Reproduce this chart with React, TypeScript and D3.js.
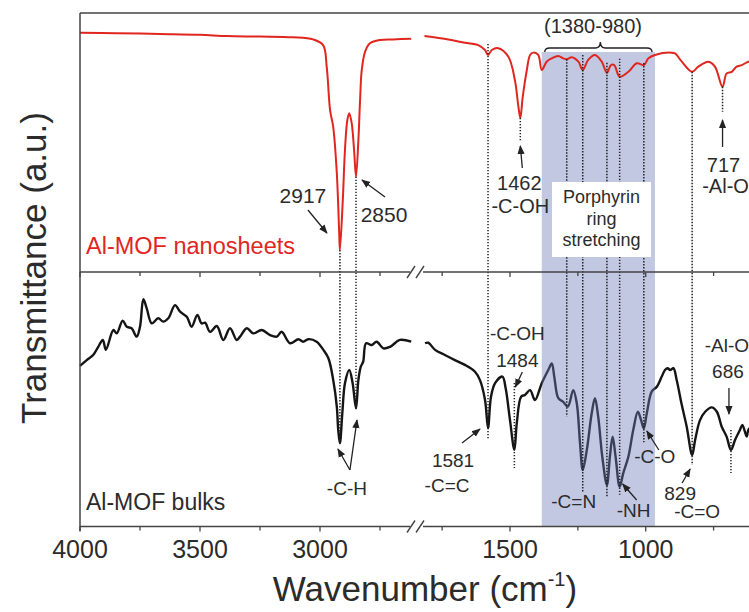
import React from 'react';
import * as d3 from 'd3';

// ---- data: [wavenumber (cm-1), transmittance (a.u.)] ----
const nanoLeft: [number, number][] = [
  [4000, 92.4], [3850, 92.2], [3667, 91.9], [3500, 91.6], [3388, 91.1], [3250, 90.9], [3113, 90.6],
  [3029, 89.8], [2987, 87.6], [2972, 79.2], [2958, 62.5], [2945, 56.0], [2930, 38.2], [2920, 15.1],
  [2917, 8.5], [2905, 27.8], [2896, 47.1], [2886, 58.7], [2878, 61.3], [2868, 57.5], [2858, 47.1],
  [2850, 36.8], [2840, 51.0], [2833, 66.4], [2826, 78.0], [2812, 85.1], [2792, 88.3], [2750, 89.6],
  [2696, 89.8], [2620, 90.1],
];
const nanoRight: [number, number][] = [
  [1815, 91.1], [1727, 89.8], [1666, 88.5], [1617, 87.6], [1592, 85.7], [1581, 83.8], [1567, 85.7],
  [1543, 86.4], [1506, 83.1], [1482, 74.1], [1469, 63.8], [1462, 59.5], [1453, 67.7], [1438, 78.0],
  [1426, 83.8], [1414, 84.7], [1396, 83.8], [1383, 78.0], [1365, 81.2], [1346, 82.5], [1322, 83.4],
  [1304, 82.5], [1291, 82.1], [1273, 82.9], [1248, 81.2], [1232, 78.0], [1212, 81.9], [1187, 83.8],
  [1162, 81.2], [1143, 76.9], [1128, 79.9], [1116, 79.9], [1096, 75.4], [1064, 77.3], [1033, 80.6],
  [1007, 79.9], [990, 82.5], [966, 83.8], [904, 84.7], [892, 84.4], [867, 81.2], [829, 77.3],
  [806, 79.3], [769, 81.2], [745, 79.3], [717, 71.5], [702, 76.7], [683, 77.3], [665, 79.3],
  [646, 79.9], [622, 81.2], [600, 81.6],
];
const bulkLeft: [number, number][] = [
  [4000, 63.1], [3972, 65.4], [3945, 67.4], [3924, 70.6], [3905, 73.3], [3892, 69.4], [3861, 77.2],
  [3847, 75.9], [3822, 80.9], [3805, 78.5], [3785, 77.9], [3764, 74.6], [3750, 78.5], [3736, 89.3],
  [3722, 85.7], [3701, 79.8], [3674, 81.8], [3653, 80.5], [3632, 81.8], [3604, 87.0], [3583, 84.4],
  [3555, 82.4], [3535, 78.5], [3511, 83.1], [3493, 79.8], [3479, 80.1], [3458, 76.5], [3430, 78.8],
  [3403, 73.3], [3375, 77.9], [3347, 73.3], [3333, 74.6], [3305, 77.9], [3278, 75.9], [3243, 77.2],
  [3208, 75.2], [3180, 74.6], [3160, 76.5], [3125, 72.0], [3090, 73.6], [3070, 72.6], [3049, 73.6],
  [3014, 72.6], [2986, 69.4], [2965, 66.1], [2945, 57.6], [2930, 47.1], [2924, 37.9], [2917, 32.7],
  [2907, 44.5], [2896, 56.3], [2878, 61.5], [2864, 56.3], [2850, 46.4], [2840, 57.6], [2830, 62.8],
  [2820, 64.8], [2808, 72.0], [2785, 71.3], [2764, 72.6], [2736, 70.0], [2708, 70.6], [2667, 73.3],
  [2620, 72.6],
];
const bulkRight: [number, number][] = [
  [1813, 72.0], [1801, 72.2], [1776, 69.4], [1740, 67.4], [1703, 65.4], [1666, 63.5], [1629, 60.8],
  [1611, 57.6], [1592, 49.7], [1581, 38.7], [1570, 51.0], [1555, 56.3], [1528, 58.9], [1516, 54.3],
  [1500, 41.8], [1484, 30.1], [1475, 40.6], [1459, 51.0], [1445, 51.7], [1426, 53.6], [1408, 49.7],
  [1383, 56.3], [1359, 61.5], [1346, 64.1], [1337, 58.9], [1322, 50.4], [1304, 49.0], [1287, 47.1],
  [1267, 53.6], [1254, 48.4], [1242, 32.7], [1232, 22.2], [1217, 30.1], [1199, 44.5], [1187, 50.4],
  [1175, 43.1], [1160, 27.4], [1143, 16.3], [1132, 27.4], [1122, 35.3], [1111, 27.4], [1096, 15.6],
  [1083, 20.9], [1064, 27.4], [1046, 37.9], [1029, 45.1], [1017, 41.8], [1007, 38.6], [996, 44.5],
  [978, 53.0], [959, 54.9], [941, 58.9], [929, 61.5], [919, 62.2], [910, 61.5], [898, 62.2],
  [886, 57.6], [867, 47.7], [849, 39.2], [829, 28.1], [818, 34.0], [800, 41.8], [781, 45.1],
  [757, 46.8], [738, 45.1], [720, 39.2], [702, 35.3], [686, 30.1], [671, 34.0], [653, 37.9],
  [644, 39.9], [628, 35.3], [622, 37.9], [600, 40.5],
];

const leftTicks = [4000, 3750, 3500, 3250, 3000, 2750];
const rightTicks = [1750, 1500, 1250, 1000, 750];
const majorLabels = [4000, 3500, 3000, 1500, 1000];
const shadedRange = [1383, 966];

// dotted guide lines: wavenumber, which curve(s) they join, offsets in px
const guides = [
  { wn: 2917, from: 'top', fo: 0, to: 'bot', tOff: 0 },
  { wn: 2850, from: 'top', fo: 0, to: 'bot', tOff: 2 },
  { wn: 1581, from: 'top', fo: -11, to: 'bot', tOff: 12 },
  { wn: 1462, from: 'top', fo: 0, to: 'top', tOff: 24 },
  { wn: 1484, from: 'bot', fo: -67, to: 'bot', tOff: 18 },
  { wn: 1291, from: 'top', fo: 0, to: 'bot', tOff: 11 },
  { wn: 1232, from: 'top', fo: -15, to: 'bot', tOff: 23 },
  { wn: 1143, from: 'top', fo: -10, to: 'bot', tOff: 12 },
  { wn: 1096, from: 'top', fo: -18, to: 'bot', tOff: 8 },
  { wn: 1007, from: 'top', fo: -2, to: 'bot', tOff: 14 },
  { wn: 829, from: 'top', fo: 0, to: 'bot', tOff: 10 },
  { wn: 717, from: 'top', fo: 0, to: 'top', tOff: 25 },
  { wn: 686, from: 'bot', fo: -20, to: 'bot', tOff: 23 },
];

const W = 749;
const H = 612;
const FONT = "'Liberation Sans', Arial, Helvetica, sans-serif";
const TXT = '#2b2b2b';
const RED = '#e0261f';

const xL = d3.scaleLinear().domain([4000, 2620]).range([80, 411.2]);
const xR = d3.scaleLinear().domain([1815, 600]).range([424.5, 754.3]);
const yTop = d3.scaleLinear().domain([0, 100]).range([272, 13]);
const yBot = d3.scaleLinear().domain([0, 100]).range([526.5, 272]);

const xOf = (wn: number) => (wn > 2000 ? xL(wn) : xR(wn));

function interp(series: [number, number][], wn: number) {
  for (let i = 0; i < series.length - 1; i++) {
    const [a, va] = series[i];
    const [b, vb] = series[i + 1];
    if (wn <= a && wn >= b) return va + ((wn - a) / (b - a)) * (vb - va);
  }
  return series[series.length - 1][1];
}
const topAt = (wn: number) => yTop(interp(wn > 2000 ? nanoLeft : nanoRight, wn));
const botAt = (wn: number) => yBot(interp(wn > 2000 ? bulkLeft : bulkRight, wn));

function pathFor(series: [number, number][], x: d3.ScaleLinear<number, number>, y: d3.ScaleLinear<number, number>) {
  return (
    d3
      .line<[number, number]>()
      .x((d) => x(d[0]))
      .y((d) => y(d[1]))
      .curve(d3.curveCatmullRom.alpha(0.5))(series) || ''
  );
}

const Arrow = ({ x1, y1, x2, y2 }: { x1: number; y1: number; x2: number; y2: number }) => (
  <line x1={x1} y1={y1} x2={x2} y2={y2} stroke="#222" strokeWidth={1.3} markerEnd="url(#ah)" />
);

const Label = ({ x, y, t, size = 20, anchor = 'middle', fill = TXT }: any) => (
  <text x={x} y={y} fontSize={size} textAnchor={anchor} fill={fill} fontFamily={FONT}>
    {t}
  </text>
);

export default function App() {
  const breakX1 = 410;
  const breakX2 = 421;
  const slash = (cx: number, cy: number, k: string) => (
    <g key={k}>
      <line x1={cx - 4} y1={cy + 6} x2={cx + 4} y2={cy - 6} stroke="#444" strokeWidth={1.4} />
    </g>
  );
  const axisRow = (y: number, key: string) => (
    <g key={key}>
      <line x1={80} y1={y} x2={breakX1} y2={y} stroke="#444" strokeWidth={1.5} />
      <line x1={breakX2 + 2} y1={y} x2={W} y2={y} stroke="#444" strokeWidth={1.5} />
      {slash(breakX1 + 1, y, key + 's1')}
      {slash(breakX2 - 1, y, key + 's2')}
      {leftTicks.map((t) => (
        <line key={'l' + t} x1={xL(t)} x2={xL(t)} y1={y} y2={y + (t % 500 === 0 ? 5 : 4)} stroke="#444" strokeWidth={1.3} />
      ))}
      {rightTicks.map((t) => (
        <line key={'r' + t} x1={xR(t)} x2={xR(t)} y1={y} y2={y + (t % 500 === 0 ? 5 : 4)} stroke="#444" strokeWidth={1.3} />
      ))}
    </g>
  );

  const shadeX1 = xR(shadedRange[0]);
  const shadeX2 = xR(shadedRange[1]);
  const braceMid = (shadeX1 + shadeX2) / 2 + 2;

  return (
    <div style={{ position: 'absolute', left: 0, top: 0 }}>
      <svg width={W} height={H} style={{ display: 'block', background: '#fff' }}>
        <defs>
          <marker id="ah" viewBox="0 0 10 10" refX={9} refY={5} markerWidth={9} markerHeight={9} markerUnits="userSpaceOnUse" orient="auto">
            <path d="M0,1 L10,5 L0,9 z" fill="#222" />
          </marker>
        </defs>

        {/* bulk spectrum */}
        <path d={pathFor(bulkLeft, xL, yBot)} fill="none" stroke="#151515" strokeWidth={2.4} strokeLinejoin="round" />
        <path d={pathFor(bulkRight, xR, yBot)} fill="none" stroke="#151515" strokeWidth={2.4} strokeLinejoin="round" />

        {/* shaded region */}
        <rect x={shadeX1} y={52} width={shadeX2 - shadeX1} height={526.5 - 52} fill="#6e7db9" opacity={0.42} />

        {/* nanosheet spectrum */}
        <path d={pathFor(nanoLeft, xL, yTop)} fill="none" stroke={RED} strokeWidth={2} strokeLinejoin="round" />
        <path d={pathFor(nanoRight, xR, yTop)} fill="none" stroke={RED} strokeWidth={2} strokeLinejoin="round" />

        {/* dotted guides */}
        {guides.map((g) => {
          const y1 = (g.from === 'top' ? topAt(g.wn) : botAt(g.wn)) + g.fo;
          const y2 = (g.to === 'top' ? topAt(g.wn) : botAt(g.wn)) + g.tOff;
          return (
            <line key={'g' + g.wn} x1={xOf(g.wn)} x2={xOf(g.wn)} y1={y1} y2={y2} stroke="#222" strokeWidth={1.5} strokeDasharray="1.4 1.6" />
          );
        })}

        {/* frame */}
        <line x1={80} y1={13} x2={W} y2={13} stroke="#444" strokeWidth={1.5} />
        <line x1={80} y1={13} x2={80} y2={531} stroke="#444" strokeWidth={1.5} />
        {axisRow(272, 'mid')}
        {axisRow(526.5, 'bot')}

        {/* tick labels */}
        {majorLabels.map((t) => (
          <text key={'tl' + t} x={xOf(t)} y={558} fontSize={25} textAnchor="middle" fill={TXT} fontFamily={FONT}>
            {t}
          </text>
        ))}

        {/* axis titles */}
        <text x={425} y={601} fontSize={35} textAnchor="middle" fill={TXT} fontFamily={FONT}>
          Wavenumber (cm
          <tspan fontSize={20} dy={-15}>-1</tspan>
          <tspan dy={15}>)</tspan>
        </text>
        <text transform="translate(46,268) rotate(-90)" fontSize={35} textAnchor="middle" fill={TXT} fontFamily={FONT}>
          Transmittance (a.u.)
        </text>

        {/* series labels */}
        <Label x={86} y={254} t="Al-MOF nanosheets" size={23.5} anchor="start" fill={RED} />
        <Label x={86} y={510} t="Al-MOF bulks" size={23} anchor="start" />

        {/* bracket */}
        <Label x={593} y={33} t="(1380-980)" size={20} />
        <path
          d={`M${shadeX1 + 3},52 Q${shadeX1 + 3},48 ${shadeX1 + 8},48 L${braceMid - 5},48 Q${braceMid},48 ${braceMid},42 Q${braceMid},48 ${braceMid + 5},48 L${shadeX2 - 8},48 Q${shadeX2 - 3},48 ${shadeX2 - 3},52`}
          fill="none"
          stroke="#222"
          strokeWidth={1.4}
        />

        {/* porphyrin box */}
        <rect x={552} y={182} width={99} height={75} fill="#fff" />
        <Label x={601.5} y={203} t="Porphyrin" size={18} />
        <Label x={601.5} y={225} t="ring" size={18} />
        <Label x={601.5} y={246} t="stretching" size={18} />

        {/* top annotations */}
        <Label x={xL(2917) - 37} y={203} t="2917" size={21} />
        <Arrow x1={xL(2917) - 32} y1={210} x2={xL(2917) - 13} y2={233} />
        <Label x={xL(2850) + 28} y={222} t="2850" size={21} />
        <Arrow x1={xL(2850) + 29} y1={197} x2={xL(2850) + 6} y2={180} />
        <Label x={xR(1462) - 1} y={190} t="1462" size={20} />
        <Label x={xR(1462)} y={213} t="-C-OH" size={20} />
        <Arrow x1={xR(1462) + 2} y1={168} x2={xR(1462)} y2={146} />
        <Label x={xR(717) + 1} y={172} t="717" size={20} />
        <Label x={xR(717) + 3} y={193} t="-Al-O" size={20} />
        <Arrow x1={xR(717)} y1={147} x2={xR(717)} y2={120} />

        {/* bottom annotations */}
        <Label x={xL(2917) + 7} y={495} t="-C-H" size={19} />
        <Arrow x1={xL(2917) + 10} y1={470} x2={xL(2917) - 2} y2={449} />
        <Arrow x1={xL(2917) + 10} y1={470} x2={xL(2850) + 1} y2={420} />
        <Label x={xR(1484) + 3} y={340} t="-C-OH" size={19} />
        <Label x={xR(1484) + 3} y={367} t="1484" size={19} />
        <Arrow x1={xR(1484) + 8} y1={372} x2={xR(1484) + 1} y2={387} />
        <Label x={xR(1581) - 35} y={467} t="1581" size={19} />
        <Label x={xR(1581) - 41} y={492} t="-C=C" size={19} />
        <Arrow x1={xR(1581) - 26} y1={443} x2={xR(1581) - 8} y2={429} />
        <Label x={xR(1232) - 9} y={508} t="-C=N" size={19} />
        <Label x={xR(1096) + 14} y={517} t="-NH" size={19} />
        <Arrow x1={xR(1096) + 17} y1={500} x2={xR(1096) + 3} y2={484} />
        <Label x={xR(1007) + 11} y={463} t="-C-O" size={19} />
        <Arrow x1={xR(1007) + 15} y1={450} x2={xR(1007) + 3} y2={431} />
        <Label x={xR(829) - 12} y={500} t="829" size={19} />
        <Label x={xR(829) + 5} y={518} t="-C=O" size={19} />
        <Arrow x1={xR(829) - 10} y1={483} x2={xR(829) - 2} y2={469} />
        <Label x={xR(686) - 4} y={352} t="-Al-O" size={19} />
        <Label x={xR(686) - 3} y={378} t="686" size={19} />
        <Arrow x1={xR(686) - 2} y1={388} x2={xR(686) - 2} y2={414} />
      </svg>
    </div>
  );
}
